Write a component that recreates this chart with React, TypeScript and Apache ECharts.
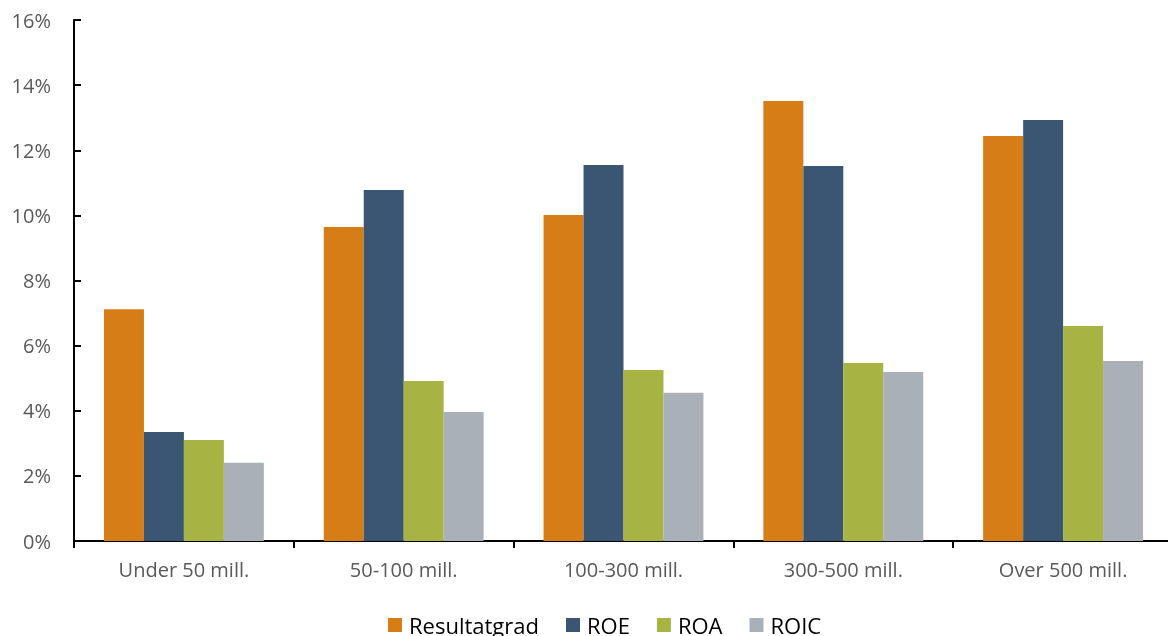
import React, { useEffect, useRef } from "react";
import * as echarts from "echarts";

const categories = ["Under 50 mill.", "50-100 mill.", "100-300 mill.", "300-500 mill.", "Over 500 mill."];
const resultatgrad = [7.12, 9.64, 10.01, 13.51, 12.44];
const roe = [3.35, 10.78, 11.55, 11.52, 12.93];
const roa = [3.1, 4.91, 5.25, 5.47, 6.6];
const roic = [2.4, 3.96, 4.55, 5.19, 5.53];
const seriesNames = ["Resultatgrad", "ROE", "ROA", "ROIC"];
const colors = ["#D77D17", "#3A5673", "#A7B444", "#AAB0B7"];

const FONT = "'Open Sans', sans-serif";

export default function App() {
  const ref = useRef<HTMLDivElement>(null);
  useEffect(() => {
    const chart = echarts.init(ref.current!, null, { renderer: "svg" });
    const data = [resultatgrad, roe, roa, roic];
    chart.setOption({
      animation: false,
      color: colors,
      textStyle: { fontFamily: FONT },
      grid: { left: 74, top: 20, width: 1099, height: 521, containLabel: false, outerBoundsMode: "none" },
      legend: {
        top: 609,
        left: 383,
        itemWidth: 14,
        itemHeight: 14,
        itemGap: 27,
        icon: "rect",
        textStyle: { fontSize: 22, lineHeight: 22, color: "#000", fontFamily: FONT, padding: [0, 0, 0, 2] },
        data: seriesNames,
      },
      xAxis: {
        type: "category",
        data: categories,
        axisLine: { lineStyle: { color: "#000", width: 2 } },
        axisTick: { show: true, length: 7, lineStyle: { color: "#000", width: 2 } },
        axisLabel: { color: "#595959", fontSize: 20, margin: 18, fontFamily: FONT },
      },
      yAxis: {
        type: "value",
        min: 0,
        max: 16,
        interval: 2,
        axisLine: { show: true, lineStyle: { color: "#000", width: 2 } },
        axisTick: { show: true, inside: true, length: 7, lineStyle: { color: "#000", width: 2 } },
        splitLine: { show: false },
        axisLabel: { color: "#595959", fontSize: 20, margin: 23, formatter: "{value}%", fontFamily: FONT },
      },
      series: seriesNames.map((name, i) => ({
        name,
        type: "bar",
        data: data[i],
        barGap: "0%",
        barCategoryGap: "27.27%",
        itemStyle: { color: colors[i] },
      })),
    });
    return () => chart.dispose();
  }, []);
  return <div ref={ref} style={{ position: "fixed", left: 0, top: 0, width: 1168, height: 636 }} />;
}
